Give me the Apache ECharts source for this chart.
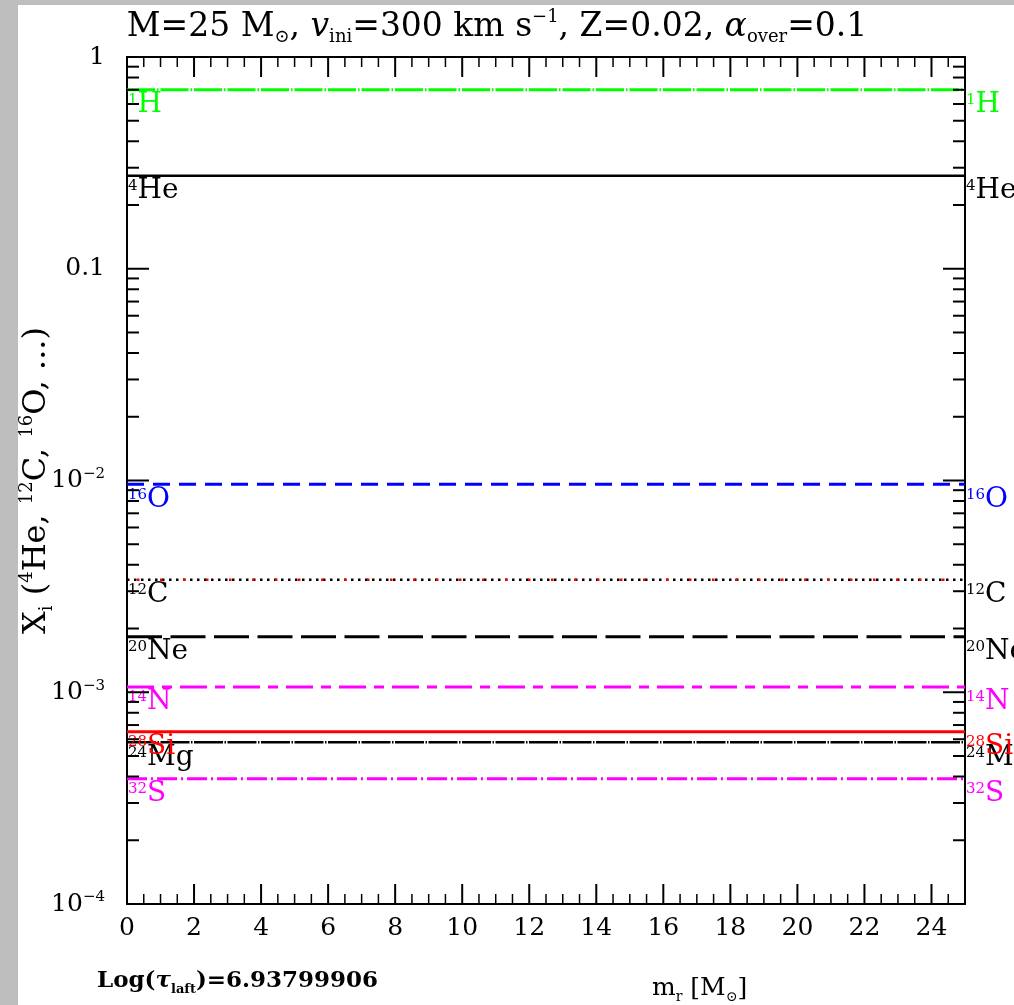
<!DOCTYPE html>
<html><head><meta charset="utf-8">
<script src="https://cdn.jsdelivr.net/npm/echarts@6/dist/echarts.min.js"></script>
<style>html,body{margin:0;padding:0;background:#fff}#c{width:1014px;height:1005px}</style>
</head><body><div id="c"></div>
<script>
// ---- data ----
const species   = ['H', 'He', 'O', 'C', 'Ne', 'N', 'Si', 'Mg', 'S'];
const isotopes  = ['1', '4', '16', '12', '20', '14', '28', '24', '32'];
const abundance = [0.70, 0.275, 0.0096, 0.0034, 0.00183, 0.00106, 0.00065, 0.00058, 0.00039];
const massRange = [0, 25];
const xTickValues = [0, 2, 4, 6, 8, 10, 12, 14, 16, 18, 20, 22, 24];
const yTickValues = [1e-4, 1e-3, 1e-2, 0.1, 1];
const yTickLabels = ['10{s|−4}', '10{s|−3}', '10{s|−2}', '0.1', '1'];

// ---- styles ----
const colors = ['#00ff00', '#000000', '#0000ff', '#000000', '#000000', '#ff00ff', '#ff0000', '#000000', '#ff00ff'];
const lineStyles = [
  {width: 3, type: [28, 2, 1.5, 2]},
  {width: 2.5, type: 'solid'},
  {width: 3, type: [17, 9]},
  {width: 2.5, type: [2.5, 4.5]},
  {width: 3, type: [35, 8.5]},
  {width: 3, type: [27, 8, 10, 8]},
  {width: 3, type: 'solid'},
  {width: 2.5, type: [29, 1.5, 1.5, 1.5]},
  {width: 3, type: [20, 4, 2, 4]}
];
const FONT = 'DejaVu Serif';

const chart = echarts.init(document.getElementById('c'), null, {renderer: 'canvas'});

const series = species.map((sp, i) => ({
  type: 'line',
  name: sp,
  xAxisIndex: 0, yAxisIndex: 0,
  data: [[massRange[0], abundance[i]], [massRange[1], abundance[i]]],
  showSymbol: false, symbol: 'none',
  lineStyle: {color: colors[i], width: lineStyles[i].width, type: lineStyles[i].type},
  z: 3,
  silent: true
}));
// red dots interleaved in the 12C dotted line
series.push({
  type: 'line', xAxisIndex: 0, yAxisIndex: 0,
  data: [[massRange[0], abundance[3]], [massRange[1], abundance[3]]],
  showSymbol: false, symbol: 'none', silent: true, z: 4,
  lineStyle: {color: '#ff0000', width: 2.5, type: [2.5, 20.5], dashOffset: -10}
});

function xAxisDef(pos, showLabel) {
  return {
    type: 'value', position: pos, min: massRange[0], max: massRange[1], interval: 2,
    axisLine: {show: true, onZero: false, lineStyle: {color: '#000', width: 2}},
    axisTick: {show: false}, minorTick: {show: false},
    splitLine: {show: false}, minorSplitLine: {show: false},
    axisLabel: showLabel ? {
      show: true, margin: 12, fontFamily: FONT, fontSize: 25, color: '#000',
      showMaxLabel: false,
      formatter: v => (xTickValues.indexOf(v) >= 0 ? String(v) : '')
    } : {show: false}
  };
}
function yAxisDef(pos, showLabel) {
  const d = {
    type: 'log', logBase: 10, position: pos, min: 1e-4, max: 1, splitNumber: 4,
    axisLine: {show: true, onZero: false, lineStyle: {color: '#000', width: 2}},
    axisTick: {show: false},
    splitLine: {show: false},
    axisLabel: {show: false}
  };
  if (showLabel) {
    d.name = 'X{sub|i} ({sup|4}He, {sup|12}C, {sup|16}O, ...)';
    d.nameLocation = 'middle'; d.nameRotate = 90; d.nameGap = 71;
    d.nameMoveOverlap = false;
    d.nameTextStyle = {
      fontFamily: FONT, fontSize: 32, color: '#000', lineHeight: 38,
      rich: {
        sub: {fontFamily: FONT, fontSize: 18, lineHeight: 18, verticalAlign: 'bottom', color: '#000'},
        sup: {fontFamily: FONT, fontSize: 18, lineHeight: 18, verticalAlign: 'top', color: '#000'}
      }
    };
    d.axisLabel = {
      show: true, margin: 22, fontFamily: FONT, fontSize: 25, color: '#000', lineHeight: 28,
      formatter: function (v) {
        for (let i = 0; i < yTickValues.length; i++) {
          if (Math.abs(Math.log10(v) - Math.log10(yTickValues[i])) < 1e-6) return yTickLabels[i];
        }
        return '';
      },
      rich: {s: {fontFamily: FONT, fontSize: 15, lineHeight: 15, verticalAlign: 'top', color: '#000'}}
    };
  }
  return d;
}

const option = {
  animation: false,
  backgroundColor: '#ffffff',
  grid: {left: 127, top: 57, right: 49, bottom: 101, containLabel: false, outerBoundsMode: 'none'},
  xAxis: [xAxisDef('bottom', true), xAxisDef('top', false)],
  yAxis: [yAxisDef('left', true), yAxisDef('right', false)],
  series: series,
  graphic: []
};
chart.setOption(option);

// ---- overlays ----
const g = [];
function tickRect(x, y, w, h) {
  g.push({type: 'rect', shape: {x: x, y: y, width: w, height: h}, style: {fill: '#000'}, z: 95, silent: true});
}
// y ticks on left and right (decades long, 2..9 short)
for (let e = -4; e < 0; e++) {
  for (let k = 1; k <= 9; k++) {
    const v = k * Math.pow(10, e);
    const len = k === 1 ? 22 : 12;
    const a = chart.convertToPixel({gridIndex: 0}, [massRange[0], v]);
    const b = chart.convertToPixel({gridIndex: 0}, [massRange[1], v]);
    tickRect(a[0], a[1] - 1, len, 2);
    tickRect(b[0] - len, b[1] - 1, len, 2);
  }
}
// x ticks on bottom and top (every 2 long, every 0.5 short)
for (let t = 0; t < 50; t++) {
  const x = t / 2;
  const major = t % 4 === 0;
  const len = major ? 20 : 10;
  const w = major ? 2 : 1.5;
  const a = chart.convertToPixel({gridIndex: 0}, [x, yTickValues[0]]);
  const b = chart.convertToPixel({gridIndex: 0}, [x, yTickValues[yTickValues.length - 1]]);
  tickRect(a[0] - w / 2, a[1] - len, w, len);
  tickRect(b[0] - w / 2, b[1], w, len);
}

g.push({type: 'rect', shape: {x: 0, y: 0, width: 18, height: 1005}, style: {fill: '#bebebe'}, z: 100, silent: true});
g.push({type: 'rect', shape: {x: 0, y: 0, width: 1014, height: 5}, style: {fill: '#bebebe'}, z: 100, silent: true});

g.push({
  type: 'text', x: 497, y: 27, z: 50, silent: true,
  style: {
    text: 'M=25 M{sub|⊙}, {it|v}{sub|ini}=300 km s{sup|−1}, Z=0.02, {it|α}{sub|over}=0.1',
    fontFamily: FONT, fontSize: 33, lineHeight: 38, fill: '#000',
    align: 'center', verticalAlign: 'middle',
    rich: {
      sub: {fontFamily: FONT, fontSize: 18, lineHeight: 18, verticalAlign: 'bottom', fill: '#000'},
      sup: {fontFamily: FONT, fontSize: 18, lineHeight: 18, verticalAlign: 'top', fill: '#000'},
      it: {fontFamily: FONT, fontSize: 33, lineHeight: 38, fontStyle: 'italic', fill: '#000'}
    }
  }
});
g.push({
  type: 'text', x: 97, y: 981, z: 50, silent: true,
  style: {
    text: 'Log({it|τ}{sub|laft})=6.93799906',
    fontFamily: FONT, fontSize: 23, fontWeight: 'bold', lineHeight: 30, fill: '#000',
    align: 'left', verticalAlign: 'middle',
    rich: {
      sub: {fontFamily: FONT, fontSize: 13, fontWeight: 'bold', lineHeight: 13, verticalAlign: 'bottom', fill: '#000'},
      it: {fontFamily: FONT, fontSize: 23, fontWeight: 'bold', fontStyle: 'italic', lineHeight: 30, fill: '#000'}
    }
  }
});
g.push({
  type: 'text', x: 652, y: 988, z: 50, silent: true,
  style: {
    text: 'm{sub|r} [M{sub|⊙}]',
    fontFamily: FONT, fontSize: 25, lineHeight: 32, fill: '#000',
    align: 'left', verticalAlign: 'middle',
    rich: {
      sub: {fontFamily: FONT, fontSize: 14, lineHeight: 14, verticalAlign: 'bottom', fill: '#000'}
    }
  }
});

species.forEach((sp, i) => {
  const pl = chart.convertToPixel({gridIndex: 0}, [massRange[0], abundance[i]]);
  const pr = chart.convertToPixel({gridIndex: 0}, [massRange[1], abundance[i]]);
  [pl, pr].forEach(p => {
    g.push({
      type: 'text', x: p[0] + 1, y: p[1], z: (sp === 'Si' ? 61 : 60), silent: true,
      style: {
        text: '{s|' + isotopes[i] + '}{m|' + sp + '}',
        align: 'left', verticalAlign: 'top',
        rich: {
          s: {fontFamily: FONT, fontSize: 15, lineHeight: 15, verticalAlign: 'top', fill: colors[i], padding: [3, 0, 0, 0]},
          m: {fontFamily: FONT, fontSize: 28, lineHeight: 30, fill: colors[i]}
        }
      }
    });
  });
});
chart.setOption({graphic: g});
</script>
</body></html>
